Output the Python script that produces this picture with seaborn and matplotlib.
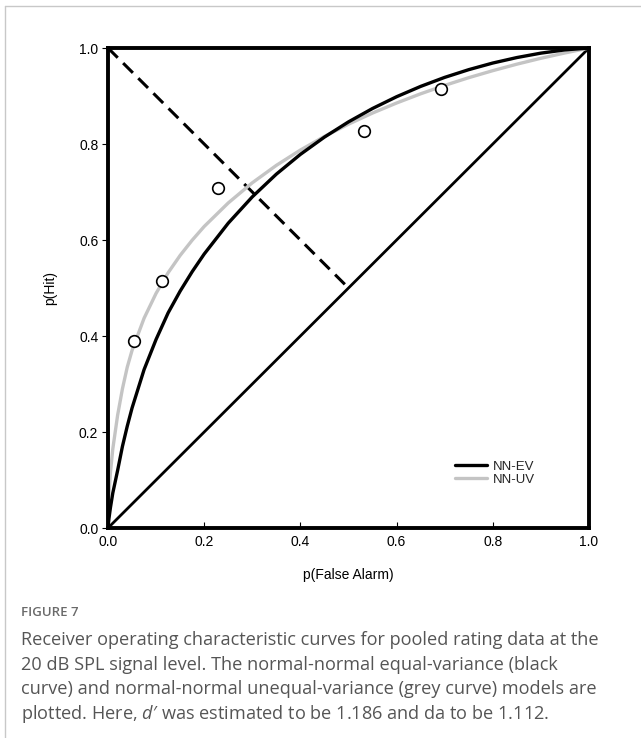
import numpy as np
import pandas as pd
import seaborn as sns
import matplotlib
matplotlib.use("Agg")
import matplotlib.pyplot as plt
from matplotlib.lines import Line2D

# ---- data ----
fa_grid = [0.0, 0.0005, 0.001, 0.002, 0.005, 0.01, 0.02, 0.03, 0.04, 0.05, 0.075, 0.1,
           0.125, 0.15, 0.175, 0.2, 0.25, 0.3, 0.35, 0.4, 0.45, 0.5, 0.55, 0.6, 0.65,
           0.7, 0.75, 0.8, 0.85, 0.9, 0.95, 1.0]
hit_ev = [0.0, 0.006, 0.011, 0.02, 0.042, 0.073, 0.12, 0.17, 0.212, 0.25, 0.33, 0.393,
          0.4482, 0.4935, 0.534, 0.5708, 0.6351, 0.6899, 0.7372, 0.7784, 0.8144, 0.8461,
          0.8740, 0.8985, 0.9200, 0.9388, 0.9549, 0.9687, 0.9801, 0.9893, 0.9961, 1.0]
hit_uv = [0.0, 0.03, 0.045, 0.07, 0.115, 0.165, 0.235, 0.29, 0.335, 0.37, 0.437, 0.489,
          0.5318, 0.5679, 0.5996, 0.6282, 0.6772, 0.7192, 0.7555, 0.7874, 0.8158, 0.8413,
          0.8645, 0.8854, 0.9046, 0.9221, 0.9382, 0.9528, 0.9663, 0.9786, 0.9897, 1.0]
obs_fa = [0.054, 0.113, 0.229, 0.533, 0.692]
obs_hit = [0.389, 0.515, 0.709, 0.827, 0.915]
chance_x = [0.0, 1.0]
chance_y = [0.0, 1.0]
minor_x = [0.0, 0.5]
minor_y = [1.0, 0.5]
ticks = [0.0, 0.2, 0.4, 0.6, 0.8, 1.0]
tick_labels = ["0.0", "0.2", "0.4", "0.6", "0.8", "1.0"]
legend_labels = ["NN-EV", "NN-UV"]
caption_title = "FIGURE 7"
caption_lines = [
    "Receiver operating characteristic curves for pooled rating data at the",
    "20 dB SPL signal level. The normal-normal equal-variance (black",
    "curve) and normal-normal unequal-variance (grey curve) models are",
    r"plotted. Here, $\mathit{d\prime}$ was estimated to be 1.186 and da to be 1.112.",
]

sns.set_theme(style="white")
plt.rcParams["font.family"] = ["Liberation Sans", "DejaVu Sans"]
plt.rcParams["mathtext.fontset"] = "custom"
plt.rcParams["mathtext.it"] = "Open Sans:italic"
plt.rcParams["mathtext.rm"] = "Open Sans"

fig = plt.figure(figsize=(6.41, 7.38), dpi=100)
fig.patch.set_facecolor("white")
ax = fig.add_axes([108 / 641, 1 - 528 / 738, 481 / 641, 480 / 738])

curves = pd.DataFrame({"fa": fa_grid, "ev": hit_ev, "uv": hit_uv})
sns.lineplot(data=pd.DataFrame({"x": chance_x, "y": chance_y}), x="x", y="y",
             ax=ax, color="black", lw=2.0, sort=False, estimator=None)
sns.lineplot(data=pd.DataFrame({"x": minor_x, "y": minor_y}), x="x", y="y",
             ax=ax, color="black", lw=2.2, sort=False, estimator=None,
             dashes=False, linestyle=(0, (4.5, 2.5)))
sns.lineplot(data=curves, x="fa", y="uv", ax=ax, color="#c4c4c4", lw=2.4,
             sort=False, estimator=None)
sns.lineplot(data=curves, x="fa", y="ev", ax=ax, color="black", lw=2.4,
             sort=False, estimator=None)
sns.scatterplot(x=obs_fa, y=obs_hit, ax=ax, s=70, facecolor="white",
                edgecolor="black", linewidth=1.2, zorder=5)

ax.set_xlim(0, 1)
ax.set_ylim(0, 1)
ax.set_xticks(ticks)
ax.set_xticklabels(tick_labels)
ax.set_yticks(ticks)
ax.set_yticklabels(tick_labels)
ax.tick_params(axis="x", direction="in", length=4, width=0.8, labelsize=10, pad=5, colors="black")
ax.tick_params(axis="y", direction="out", length=4, width=0.8, labelsize=10, pad=3, colors="black")
ax.tick_params(left=True, bottom=True)
for sp in ax.spines.values():
    sp.set_visible(True)
    sp.set_color("black")
    sp.set_linewidth(2.8)
ax.set_xlabel("p(False Alarm)", fontsize=10, labelpad=14, color="black")
ax.set_ylabel("p(Hit)", fontsize=10, labelpad=16, color="black")

handles = [Line2D([], [], color="black", lw=2.4), Line2D([], [], color="#c4c4c4", lw=2.4)]
ax.legend(handles, legend_labels, loc="lower left", bbox_to_anchor=(347 / 481, 42 / 480),
          frameon=False, fontsize=9.5, handlelength=2.4, handletextpad=0.45,
          labelspacing=0.05, borderaxespad=0, borderpad=0)

# page frame
fig.add_artist(Line2D([5 / 641, 5 / 641], [0, 1 - 6 / 738], transform=fig.transFigure,
                      color="#c8c8c8", lw=1.0))
fig.add_artist(Line2D([5 / 641, 1], [1 - 6 / 738, 1 - 6 / 738], transform=fig.transFigure,
                      color="#c8c8c8", lw=1.0))

fig.text(21 / 641, 1 - 613 / 738, caption_title, fontsize=9.5, color="#6a6a6a",
         family=["Open Sans", "DejaVu Sans"], fontweight="semibold", va="center")
for i, line in enumerate(caption_lines):
    fig.text(21 / 641, 1 - (640 + i * 24.6) / 738, line, fontsize=13.1, color="#555555",
             family=["Open Sans", "DejaVu Sans"], va="center")

fig.savefig("out.png", dpi=100, facecolor="white")
